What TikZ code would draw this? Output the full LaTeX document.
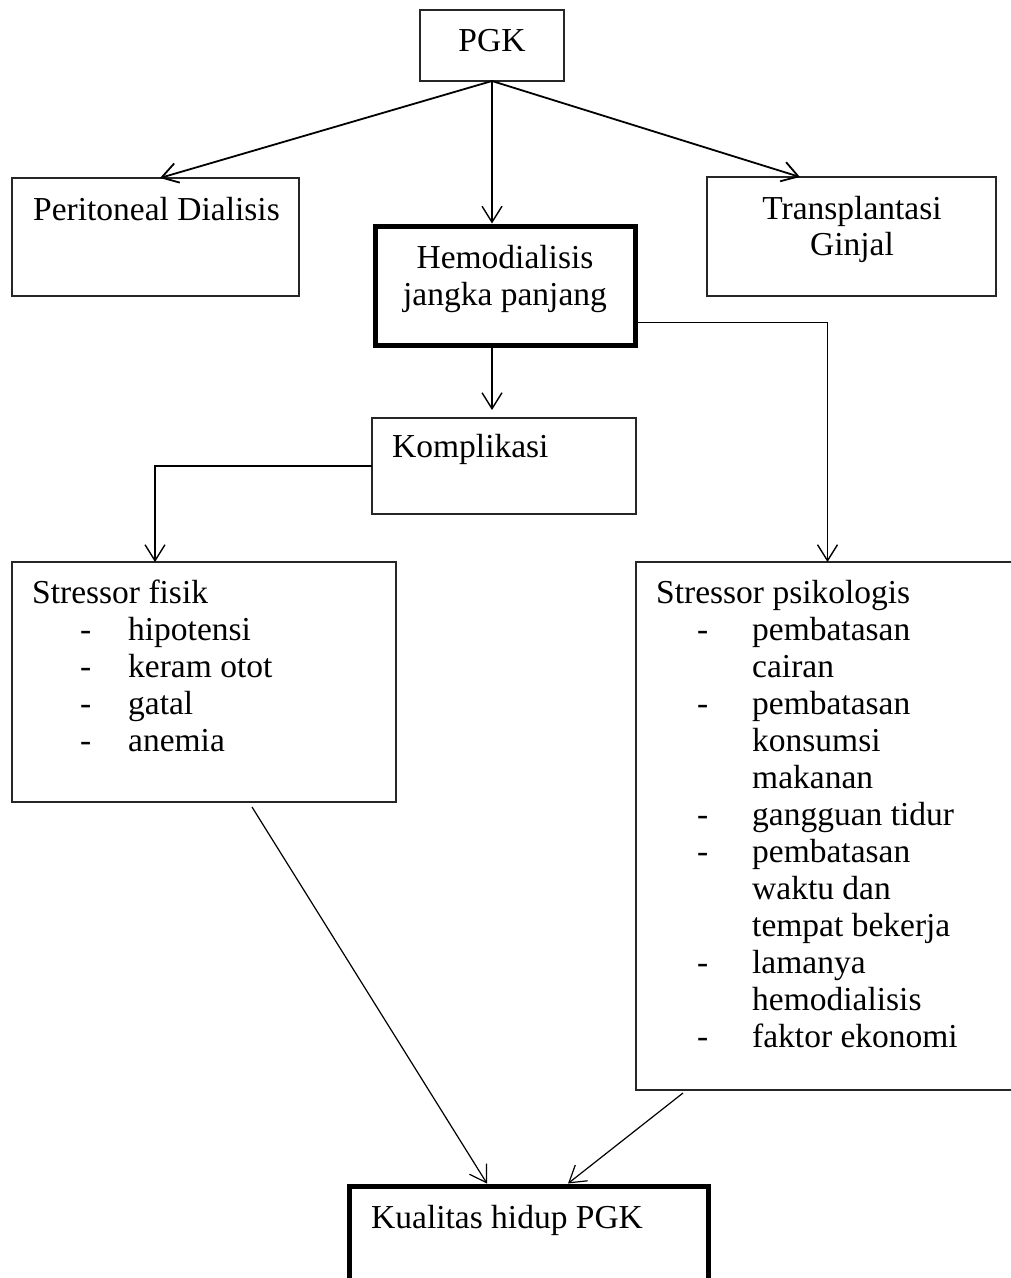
\documentclass[tikz,border=0pt]{standalone}
\usepackage{fontspec}
\setmainfont{Liberation Serif}
\usetikzlibrary{arrows.meta,calc}
\newcommand\lstitem[2][48pt]{\hspace*{#1}\makebox[\dimexpr96pt-#1\relax][l]{-}#2}
\newcommand\lstcont[1]{\hspace*{96pt}#1}
\begin{document}
\begin{tikzpicture}[x=1pt,y=-1pt,
  box/.style={draw=black!85, line width=1.4pt, rectangle, inner sep=0pt, outer sep=0pt, anchor=north west},
  thickbox/.style={draw=black, line width=5pt, rectangle, inner sep=0pt, outer sep=0pt, anchor=north west},
  lbl/.style={inner sep=0pt, font=\fontsize{33.5}{37}\selectfont},
  conn/.style={line width=1.4pt, line join=miter},
  arr/.style={conn, -{Straight Barb[length=16pt,width=20pt]}},
]
\useasboundingbox (0,0) rectangle (1011,1278);
\clip (0,0) rectangle (1011,1278);

% boxes
\node[box, minimum width=144pt, minimum height=71pt] (pgk) at (420,10) {};
\node[box, minimum width=287pt, minimum height=118pt] (perit) at (12,178) {};
\node[box, minimum width=289pt, minimum height=119pt] (trans) at (707,177) {};
\node[thickbox, minimum width=260pt, minimum height=119pt] (hemo) at (375,226) {};
\node[box, minimum width=264pt, minimum height=96pt] (kompl) at (372,418) {};
\node[box, minimum width=384pt, minimum height=240pt] (fisik) at (12,562) {};
\node[box, minimum width=379pt, minimum height=528pt] (psiko) at (636,562) {};
\node[thickbox, minimum width=359pt, minimum height=200pt] (kual) at (349,1186) {};

% texts
\node[lbl, anchor=base] (tpgk) at (492,51) {PGK};
\node[lbl, anchor=base west] (tperit) at (33,220) {Peritoneal Dialisis};
\node[lbl, anchor=base] (ttrans) at (852,219) {\begin{tabular}[t]{@{}c@{}}Transplantasi\\[-1pt]Ginjal\end{tabular}};
\node[lbl, anchor=base] (themo) at (505,268) {\begin{tabular}[t]{@{}c@{}}Hemodialisis\\jangka panjang\end{tabular}};
\node[lbl, anchor=base west] (tkompl) at (392,457) {Komplikasi};
\node[lbl, anchor=base west] (tfisik) at (32,603) {\begin{tabular}[t]{@{}l@{}}
Stressor fisik\\
\lstitem{hipotensi}\\
\lstitem{keram otot}\\
\lstitem{gatal}\\
\lstitem{anemia}
\end{tabular}};
\node[lbl, anchor=base west] (tpsiko) at (656,603) {\begin{tabular}[t]{@{}l@{}}
Stressor psikologis\\
\lstitem[41pt]{pembatasan}\\
\lstcont{cairan}\\
\lstitem[41pt]{pembatasan}\\
\lstcont{konsumsi}\\
\lstcont{makanan}\\
\lstitem[41pt]{gangguan tidur}\\
\lstitem[41pt]{pembatasan}\\
\lstcont{waktu dan}\\
\lstcont{tempat bekerja}\\
\lstitem[41pt]{lamanya}\\
\lstcont{hemodialisis}\\
\lstitem[41pt]{faktor ekonomi}
\end{tabular}};
\node[lbl, anchor=base west] (tkual) at (371,1228) {Kualitas hidup PGK};

% connectors
\draw[arr, line width=1.8pt] (pgk.south) -- ($(perit.north)+(4.5,0)$);
\draw[arr] (pgk.south) -- ($(pgk.south |- hemo.north)+(0,-2.5)$);
\draw[arr, line width=1.8pt] (pgk.south) -- ($(trans.north)+(-51.5,0)$);
\draw[arr] ($(pgk.south |- hemo.south)+(0,2.5)$) -- ($(pgk.south |- kompl.north)+(0,-8)$);
\draw[conn, -{Straight Barb[length=16pt,width=20pt]}] ($(hemo.north east)!0.81!(hemo.south east)+(2.5,0)$) -| ($(psiko.north)+(2,0)$);
\draw[arr] (kompl.west) -| ($(fisik.north)+(-49,0)$);
\draw[conn, line width=1.2pt, -{Straight Barb[length=16pt,width=20pt]}] ($(fisik.south)+(48,5)$) -- ($(kual.north)+(-41.5,-2.5)$);
\draw[conn, line width=1.2pt, -{Straight Barb[length=16pt,width=20pt]}] ($(psiko.south)+(-142.5,3)$) -- ($(kual.north)+(39.5,-2.5)$);
\end{tikzpicture}
\end{document}
